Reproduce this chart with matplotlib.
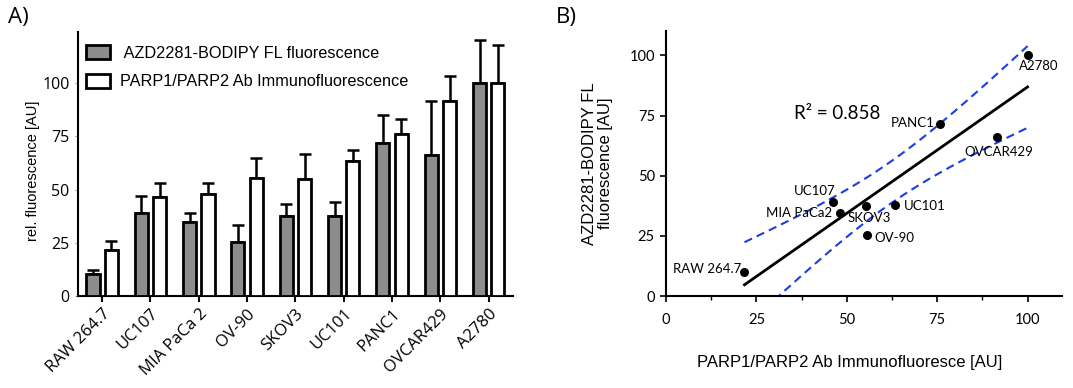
import numpy as np
import matplotlib
matplotlib.use('Agg')
import matplotlib.pyplot as plt
from matplotlib.patches import Patch

## Data
cells = ['RAW 264.7', 'UC107', 'MIA PaCa 2', 'OV-90', 'SKOV3', 'UC101', 'PANC1', 'OVCAR429', 'A2780']
azd = [10.2, 39.0, 34.6, 25.4, 37.6, 37.7, 71.7, 66.2, 100.0]
azd_err = [2.0, 8.0, 4.4, 8.1, 5.6, 6.4, 13.1, 25.2, 20.2]
parp = [21.7, 46.3, 48.0, 55.5, 55.2, 63.2, 75.9, 91.5, 100.0]
parp_err = [4.0, 6.6, 5.0, 9.4, 11.5, 5.3, 7.2, 11.8, 17.8]

pt_labels = ['RAW 264.7', 'UC107', 'MIA PaCa2', 'OV-90', 'SKOV3', 'UC101', 'PANC1', 'OVCAR429', 'A2780']
# label offsets in pixels (dx, dy, ha, va)
pt_offsets = [(-3, 3, 'right', 'center'), (2, 11, 'right', 'center'), (-7, 0, 'right', 'center'),
              (8, -3, 'left', 'center'), (4, -12, 'center', 'center'), (9, -1, 'left', 'center'),
              (-6, 1, 'right', 'center'), (2, -15, 'center', 'center'), (11, -11, 'center', 'center')]
r2_text = 'R\u00b2 = 0.858'

fig = plt.figure(figsize=(10.73, 3.88), dpi=100)

#############
## Panel A ##
#############
axA = fig.add_axes([0.0727, 0.237, 0.4053, 0.6805])
x = np.arange(len(cells))
w = 0.27
axA.bar(x - 0.19, azd, w, color='#8c8c8c', edgecolor='black', linewidth=2, zorder=3)
axA.bar(x + 0.19, parp, w, color='white', edgecolor='black', linewidth=2, zorder=3)
axA.errorbar(x - 0.19, azd, yerr=[np.zeros(len(azd)), azd_err], fmt='none', ecolor='black',
             elinewidth=1.8, capsize=4, capthick=1.8, zorder=2)
axA.errorbar(x + 0.19, parp, yerr=[np.zeros(len(parp)), parp_err], fmt='none', ecolor='black',
             elinewidth=1.8, capsize=4, capthick=1.8, zorder=2)
axA.set_xlim(-0.5, 8.5)
axA.set_ylim(0, 124)
axA.set_yticks([0, 25, 50, 75, 100])
axA.set_xticks(x)
axA.set_xticklabels(cells, rotation=45, ha='right', rotation_mode='anchor',
                    fontsize=12, family='Open Sans')
for lab in axA.get_yticklabels():
    lab.set_family('Open Sans')
    lab.set_fontsize(11.5)
axA.tick_params(axis='y', length=2, width=0.8, color='#999999', pad=4)
axA.tick_params(axis='x', length=4, width=1.5, pad=3)
for s in ['top', 'right']:
    axA.spines[s].set_visible(False)
for s in ['left', 'bottom']:
    axA.spines[s].set_linewidth(1.5)
handles = [Patch(facecolor='#8c8c8c', edgecolor='black', linewidth=2),
           Patch(facecolor='white', edgecolor='black', linewidth=2)]
axA.legend(handles, [' AZD2281-BODIPY FL fluorescence', 'PARP1/PARP2 Ab Immunofluorescence'],
           loc='upper left', bbox_to_anchor=(-0.012, 1.0), frameon=False,
           prop={'family': 'Liberation Sans', 'size': 11.7}, handlelength=1.5, handleheight=0.95,
           handletextpad=0.6, labelspacing=0.8, borderaxespad=0.4)
fig.text(0.031, 0.56, 'rel. fluorescence [AU]', rotation=90, ha='center', va='center',
         fontsize=10.5, family='Liberation Sans')
fig.text(0.007, 0.955, 'A)', fontsize=16, family='Open Sans', va='center')

#############
## Panel B ##
#############
axB = fig.add_axes([0.6207, 0.237, 0.369, 0.682])
px = np.array(parp)
py = np.array(azd)
axB.scatter(px, py, s=30, color='black', zorder=4)
for xi, yi, lab, (dx, dy, ha, va) in zip(px, py, pt_labels, pt_offsets):
    axB.annotate(lab, (xi, yi), xytext=(dx, dy), textcoords='offset pixels', ha=ha, va=va,
                 fontsize=9.5, family='Lato')

# linear fit + 95% confidence band
slope, inter = np.polyfit(px, py, 1)
n = len(px)
resid = py - (slope * px + inter)
s_err = np.sqrt(np.sum(resid ** 2) / (n - 2))
t_val = 2.365
xf = np.linspace(px.min(), px.max(), 100)
yf = slope * xf + inter
ci = t_val * s_err * np.sqrt(1.0 / n + (xf - px.mean()) ** 2 / np.sum((px - px.mean()) ** 2))
axB.plot(xf, yf, color='black', lw=2, zorder=3)
axB.plot(xf, yf + ci, color='#1a3de8', lw=1.5, ls=(0, (4, 2.5)), zorder=2)
axB.plot(xf, yf - ci, color='#1a3de8', lw=1.5, ls=(0, (4, 2.5)), zorder=2)
axB.text(35.5, 76, r2_text, fontsize=13.5, family='Lato', va='center')

axB.set_xlim(0, 109.5)
axB.set_ylim(0, 110)
axB.set_xticks([0, 25, 50, 75, 100])
axB.set_xticks([12.5, 37.5, 62.5, 87.5], minor=True)
axB.set_yticks([0, 25, 50, 75, 100])
for lab in axB.get_xticklabels() + axB.get_yticklabels():
    lab.set_family('Lato')
    lab.set_fontsize(10.5)
axB.tick_params(axis='x', which='major', length=4, width=1.2, pad=8)
axB.tick_params(axis='y', which='major', length=4, width=1.2, pad=4)
axB.tick_params(axis='x', which='minor', length=3, width=1.0)
for s in ['top', 'right']:
    axB.spines[s].set_visible(False)
for s in ['left', 'bottom']:
    axB.spines[s].set_linewidth(1.5)
axB.set_xlabel('PARP1/PARP2 Ab Immunofluoresce [AU]', family='Liberation Sans', fontsize=12)
axB.xaxis.set_label_coords(0.465, -0.223)
axB.set_ylabel('AZD2281-BODIPY FL\nfluorescence [AU]', family='Liberation Sans', fontsize=12,
               linespacing=1.05)
axB.yaxis.set_label_coords(-0.135, 0.5)
fig.text(0.518, 0.955, 'B)', fontsize=16, family='Open Sans', va='center')

fig.savefig('out.png', dpi=100)
